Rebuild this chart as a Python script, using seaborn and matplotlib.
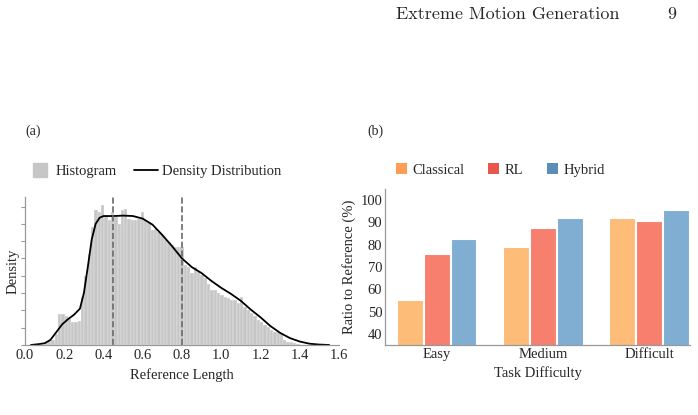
import numpy as np
import pandas as pd
import seaborn as sns
import matplotlib.pyplot as plt
from matplotlib.patches import Patch
from matplotlib.lines import Line2D

# histogram bars (density), bins start at 0.10
hist_heights = [0.03, 0.05, 0.06, 0.13, 0.36, 0.36, 0.34, 0.30, 0.27, 0.27,
                0.28, 0.55, 0.80, 1.05, 1.36, 1.56, 1.54, 1.62, 1.50, 1.44,
                1.54, 1.48, 1.40, 1.56, 1.57, 1.46, 1.44, 1.44, 1.46, 1.54,
                1.44, 1.42, 1.33, 1.34, 1.30, 1.27, 1.22, 1.19, 1.15, 1.13,
                1.13, 1.13, 0.92, 0.90, 0.83, 0.90, 0.85, 0.81, 0.77, 0.71,
                0.63, 0.63, 0.60, 0.58, 0.56, 0.54, 0.52, 0.52, 0.48, 0.56,
                0.44, 0.40, 0.37, 0.33, 0.29, 0.27, 0.23, 0.21, 0.17, 0.15,
                0.15, 0.13, 0.06, 0.04, 0.03, 0.02, 0.01]
hist_start, hist_end = 0.10, 1.40

# density curve
kde_x = [0.03, 0.07, 0.10, 0.13, 0.16, 0.19, 0.22, 0.25, 0.28, 0.30, 0.32,
         0.34, 0.36, 0.38, 0.40, 0.45, 0.50, 0.55, 0.60, 0.65, 0.70, 0.75,
         0.80, 0.85, 0.90, 0.95, 1.00, 1.05, 1.10, 1.15, 1.20, 1.25, 1.30,
         1.35, 1.40, 1.45, 1.50, 1.55]
kde_y = [0.00, 0.01, 0.02, 0.06, 0.15, 0.24, 0.30, 0.35, 0.42, 0.60, 0.90,
         1.22, 1.40, 1.47, 1.49, 1.49, 1.495, 1.49, 1.46, 1.39, 1.27, 1.14,
         1.00, 0.90, 0.83, 0.74, 0.66, 0.59, 0.51, 0.41, 0.32, 0.22, 0.14,
         0.08, 0.04, 0.015, 0.005, 0.0]
ref_lines = [0.45, 0.80]

# bar chart
tasks = ["Easy", "Medium", "Difficult"]
methods = ["Classical", "RL", "Hybrid"]
classical = [55.0, 79.0, 92.2]
rl = [75.7, 87.3, 90.6]
hybrid = [82.4, 92.2, 95.8]

bar_colors = ["#FDBC78", "#F67F6E", "#80AED3"]
legend_colors = ["#FD9E54", "#E8574B", "#5B8DB6"]

sns.set_theme(style="white")
plt.rcParams["font.family"] = ["Liberation Serif", "DejaVu Serif"]
fs = 10.5

fig = plt.figure(figsize=(6.98, 4.15), dpi=100)
W, H = 698, 415

def box(x0, y0, x1, y1):
    return [x0 / W, 1 - y1 / H, (x1 - x0) / W, (y1 - y0) / H]

# ---- (a) histogram ----
ax1 = fig.add_axes(box(25, 197, 339, 345))
bw = (hist_end - hist_start) / len(hist_heights)
hist_df = pd.DataFrame({
    "x": hist_start + bw * (np.arange(len(hist_heights)) + 0.5),
    "w": hist_heights,
})
sns.histplot(data=hist_df, x="x", weights="w", binwidth=bw,
             binrange=(hist_start, hist_end), ax=ax1,
             color="#c6c6c6", alpha=1, edgecolor="white", linewidth=0.2)
sns.lineplot(x=kde_x, y=kde_y, ax=ax1, color="black", linewidth=1.3)
for v in ref_lines:
    ax1.axvline(v, color="#6a6a6a", linestyle="--", linewidth=1.2)
ax1.set_xlim(0, 1.6)
ax1.set_ylim(0, 1.71)
ax1.set_xticks(np.arange(0, 1.61, 0.2))
ax1.set_xticklabels([f"{t:.1f}" for t in np.arange(0, 1.61, 0.2)], fontsize=fs)
ax1.set_yticks(np.arange(0, 1.61, 0.2))
ax1.set_yticklabels([])
ax1.tick_params(axis="y", left=True, length=3, color="#999999", width=0.8)
ax1.tick_params(axis="x", length=0, pad=3)
ax1.set_xlabel("Reference Length", fontsize=fs, labelpad=4)
ax1.set_ylabel("Density", fontsize=fs)
ax1.yaxis.set_label_coords(-0.018, 0.5)
sns.despine(ax=ax1)
for s in ["left", "bottom"]:
    ax1.spines[s].set_color("#999999")
    ax1.spines[s].set_linewidth(0.9)

h1 = [Line2D([], [], marker="s", linestyle="none", markersize=10, color="#c6c6c6"),
      Line2D([], [], color="black", linewidth=1.3)]
fig.legend(h1, ["Histogram", "Density Distribution"], loc="center left",
           bbox_to_anchor=(28 / W, 1 - 171 / H), ncol=2, frameon=False,
           fontsize=fs, handlelength=1.6, handletextpad=0.3, columnspacing=1.2,
           borderpad=0, borderaxespad=0)

# ---- (b) bars ----
ax2 = fig.add_axes(box(385, 189, 690, 345))
df = pd.DataFrame({
    "Task": tasks * 3,
    "Method": [m for m in methods for _ in tasks],
    "Ratio": classical + rl + hybrid,
})
sns.barplot(data=df, x="Task", y="Ratio", hue="Method", palette=bar_colors,
            saturation=1, width=0.76, edgecolor="white", linewidth=1.5,
            ax=ax2, legend=False)
ax2.set_ylim(35, 105)
ax2.set_xlim(-0.49, 2.38)
ax2.set_yticks(range(40, 101, 10))
ax2.tick_params(axis="both", length=0, labelsize=fs, pad=2)
ax2.set_xlabel("Task Difficulty", fontsize=fs, labelpad=4)
ax2.set_ylabel("Ratio to Reference (%)", fontsize=fs, labelpad=3)
sns.despine(ax=ax2)
for s in ["left", "bottom"]:
    ax2.spines[s].set_color("#999999")
    ax2.spines[s].set_linewidth(0.9)

h2 = [Patch(facecolor=c, edgecolor="none") for c in legend_colors]
fig.legend(h2, methods, loc="center left",
           bbox_to_anchor=(396 / W, 1 - 170 / H), ncol=3, frameon=False,
           fontsize=fs, handlelength=0.75, handleheight=0.75,
           handletextpad=0.4, columnspacing=1.6, borderpad=0, borderaxespad=0)

# page text
fig.text(25 / W, 1 - 131 / H, "(a)", fontsize=10, va="center")
fig.text(367 / W, 1 - 131 / H, "(b)", fontsize=10, va="center")
fig.text(508 / W, 1 - 14 / H, "Extreme Motion Generation", fontsize=13,
         family="cmr10", ha="center", va="center")
fig.text(672 / W, 1 - 14 / H, "9", fontsize=13, family="cmr10",
         ha="center", va="center")

fig.savefig("out.png", dpi=100)
